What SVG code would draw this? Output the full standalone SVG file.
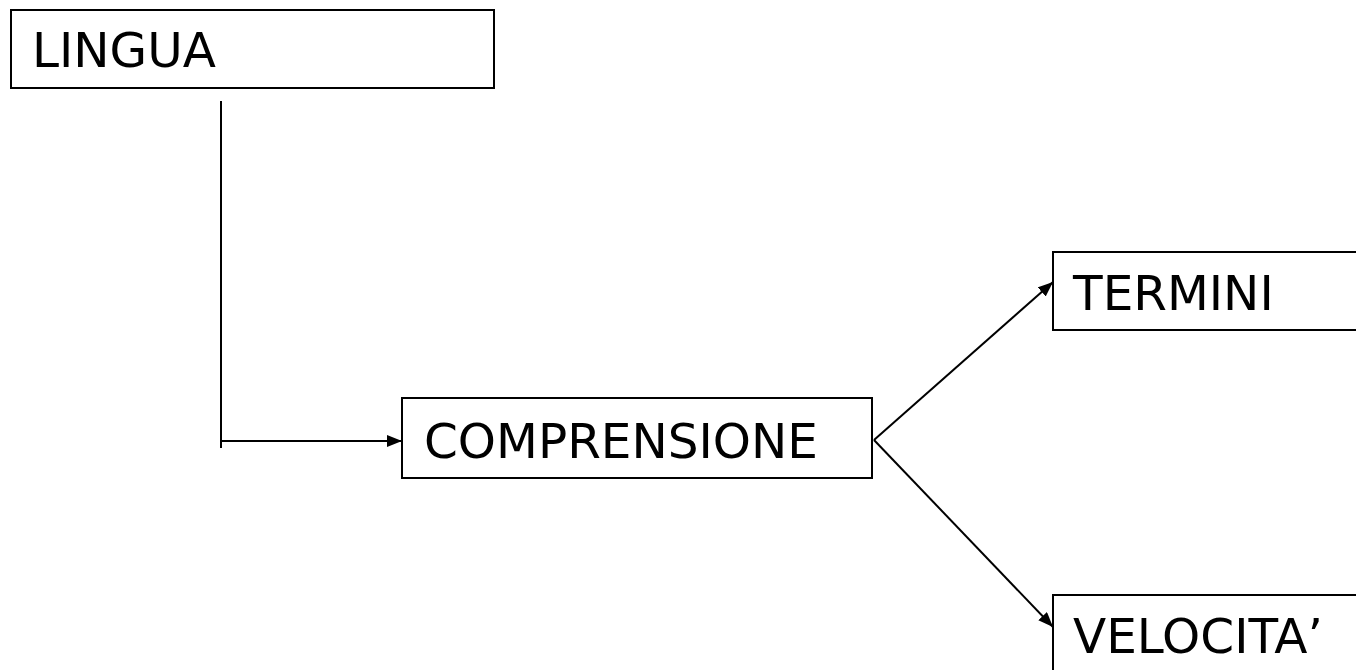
<svg xmlns="http://www.w3.org/2000/svg" width="1356" height="670" viewBox="0 0 1356 670">
<style>
.box{fill:#fff;stroke:#000;stroke-width:2}
.lbl{font-family:"DejaVu Sans",Verdana,sans-serif;font-size:48.5px;fill:#000}
.con{fill:none;stroke:#000;stroke-width:2}
</style>
<defs>
<marker id="ah" viewBox="0 0 15 12" refX="15" refY="6" markerWidth="15" markerHeight="12" markerUnits="userSpaceOnUse" orient="auto">
<path d="M0,0 L15,6 L0,12 Z" fill="#000"/>
</marker>
</defs>
<rect width="1356" height="670" fill="#fff"/>
<g id="connectors">
<path class="con" d="M221,101 L221,448"/>
<path class="con" d="M221,441 L402,441" marker-end="url(#ah)"/>
<path class="con" d="M874,440 L1053,282" marker-end="url(#ah)"/>
<path class="con" d="M874,440 L1053,627" marker-end="url(#ah)"/>
</g>
<g id="lingua">
<rect class="box" x="11" y="10" width="483" height="78"/>
<text class="lbl" x="32" y="67">LINGUA</text>
</g>
<g id="comprensione">
<rect class="box" x="402" y="398" width="470" height="80"/>
<text class="lbl" x="424" y="458">COMPRENSIONE</text>
</g>
<g id="termini">
<rect class="box" x="1053" y="252" width="320" height="78"/>
<text class="lbl" x="1073" y="310">TERMINI</text>
</g>
<g id="velocita">
<rect class="box" x="1053" y="595" width="320" height="90"/>
<text class="lbl" x="1073" y="653">VELOCITA’</text>
</g>
</svg>
